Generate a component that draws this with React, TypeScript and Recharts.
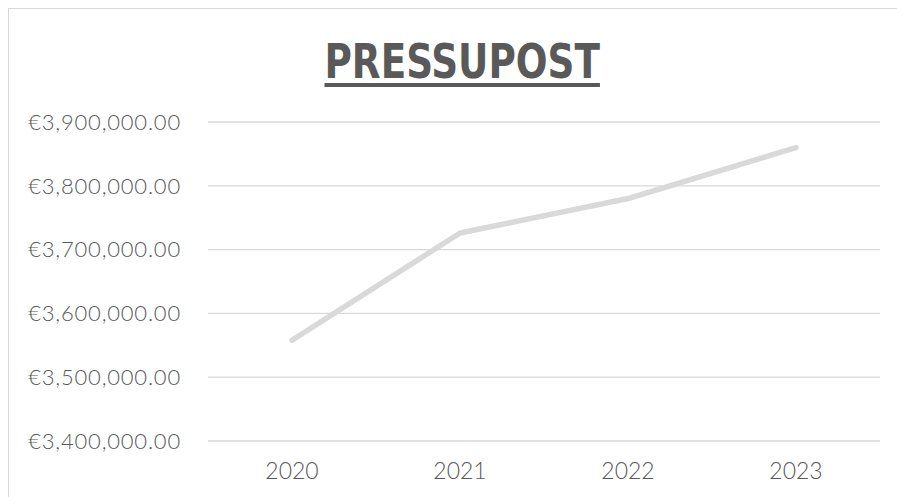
import React from 'react';
import { LineChart, Line, XAxis, YAxis, CartesianGrid } from 'recharts';

const years = ['2020', '2021', '2022', '2023'];
const budget = [3558000, 3726000, 3780000, 3860000];
const yTicks = [3400000, 3500000, 3600000, 3700000, 3800000, 3900000];

const data = years.map((year, i) => ({ year, budget: budget[i] }));

const formatEuro = (v: number) =>
  '€' + v.toLocaleString('en-US', { minimumFractionDigits: 2, maximumFractionDigits: 2 });

const labelFont = 'Lato, "Open Sans", sans-serif';

const App: React.FC = () => {
  return (
    <div
      style={{
        position: 'fixed',
        top: 8,
        left: 8,
        width: 900,
        height: 500,
        borderTop: '1px solid #d9d9d9',
        borderLeft: '1px solid #d9d9d9',
        background: '#fff',
      }}
    >
      <div
        style={{
          position: 'absolute',
          top: 28,
          left: 9,
          width: 888,
          textAlign: 'center',
          lineHeight: 1,
        }}
      >
        <span
          style={{
            display: 'inline-block',
            transform: 'scaleX(0.865)',
            fontFamily: '"DejaVu Sans Condensed", "Liberation Sans Narrow", sans-serif',
            fontWeight: 700,
            fontSize: 48,
            color: '#595959',
            textDecoration: 'underline',
            textDecorationThickness: 4,
            textUnderlineOffset: 5,
          }}
        >
          PRESSUPOST
        </span>
      </div>
      <LineChart
        width={888}
        height={480}
        data={data}
        margin={{ top: 113, right: 17, left: 0, bottom: 18 }}
      >
        <CartesianGrid vertical={false} stroke="#d9d9d9" strokeWidth={1.3} />
        <XAxis
          dataKey="year"
          axisLine={false}
          tickLine={false}
          tickSize={0}
          tickMargin={22}
          height={30}
          padding={{ left: 84, right: 84 }}
          tick={{ fill: '#595959', fontSize: 23, fontWeight: 300, fontFamily: labelFont }}
        />
        <YAxis
          domain={[3400000, 3900000]}
          ticks={yTicks}
          tickFormatter={formatEuro}
          axisLine={false}
          tickLine={false}
          tickSize={0}
          tickMargin={27}
          width={199}
          tick={{ fill: '#595959', fontSize: 22, fontWeight: 300, fontFamily: labelFont, letterSpacing: 0.8 }}
        />
        <Line
          type="linear"
          dataKey="budget"
          stroke="#d9d9d9"
          strokeWidth={5.5}
          strokeLinecap="round"
          strokeLinejoin="round"
          dot={false}
          activeDot={false}
          isAnimationActive={false}
        />
      </LineChart>
    </div>
  );
};

export default App;
